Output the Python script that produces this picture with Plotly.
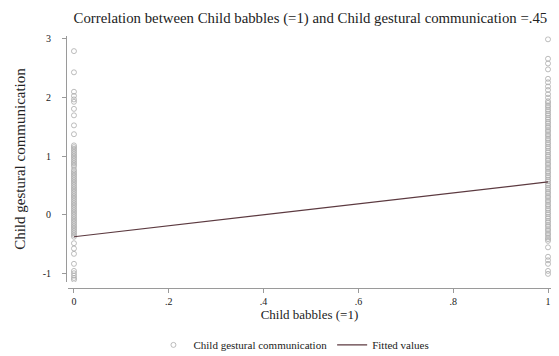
import plotly.graph_objects as go

# babbles = 0 group, gestural communication scores
gest_babble0 = [2.78, 2.42, 2.09, 2.02, 1.96, 1.92, 1.8, 1.69, 1.52, 1.37,
                1.18, 1.15, 1.12, 1.09, 1.06, 1.03, 1.0, 0.97, 0.94, 0.91,
                0.88, 0.85, 0.82, 0.77, 0.74, 0.71, 0.68, 0.65, 0.62, 0.59,
                0.56, 0.53, 0.5, 0.47, 0.44, 0.41, 0.38, 0.35, 0.32, 0.29,
                0.26, 0.23, 0.2, 0.17, 0.14, 0.11, 0.08, 0.05, 0.02, -0.01,
                -0.04, -0.07, -0.1, -0.13, -0.16, -0.19, -0.22, -0.25, -0.28,
                -0.31, -0.34, -0.37, -0.48, -0.57, -0.66, -0.83, -0.95,
                -0.99, -1.03, -1.07, -1.1]

# babbles = 1 group
gest_babble1 = [2.98, 2.65, 2.57, 2.47, 2.31, 2.25, 2.18, 2.12, 2.05, 1.99,
                1.93, 1.9, 1.86, 1.83, 1.79, 1.76, 1.72, 1.69, 1.65, 1.62,
                1.58, 1.55, 1.51, 1.48, 1.44, 1.41, 1.37, 1.34, 1.3, 1.27,
                1.23, 1.2, 1.16, 1.13, 1.09, 1.06, 1.02, 0.99, 0.95, 0.92,
                0.88, 0.85, 0.81, 0.78, 0.74, 0.71, 0.67, 0.64, 0.6, 0.57,
                0.53, 0.5, 0.46, 0.43, 0.39, 0.36, 0.32, 0.29, 0.25, 0.22,
                0.18, 0.15, 0.11, 0.08, 0.04, 0.01, -0.03, -0.06, -0.1,
                -0.13, -0.17, -0.2, -0.24, -0.27, -0.31, -0.34, -0.38,
                -0.41, -0.44, -0.55, -0.71, -0.77, -0.83, -0.95, -1.0]

fit_x = [0, 1]
fit_y = [-0.37, 0.56]

x_ticks = [0, 0.2, 0.4, 0.6, 0.8, 1]
x_tick_labels = ["0", ".2", ".4", ".6", ".8", "1"]
y_ticks = [-1, 0, 1, 2, 3]
y_tick_labels = ["-1", "0", "1", "2", "3"]

FONT = "Liberation Serif"

scatter_x = [0] * len(gest_babble0) + [1] * len(gest_babble1)
scatter_y = gest_babble0 + gest_babble1

fig = go.Figure()
fig.add_trace(go.Scatter(
    x=scatter_x, y=scatter_y, mode="markers",
    name="Child gestural communication",
    marker=dict(symbol="circle-open", size=5, color="#ababab",
                line=dict(width=0.8, color="#ababab")),
))
fig.add_trace(go.Scatter(
    x=fit_x, y=fit_y, mode="lines", name="Fitted values",
    line=dict(color="#5c3a40", width=1.2),
))

axis_common = dict(
    showline=True, linecolor="#9a9a9a", linewidth=1,
    ticks="outside", ticklen=4, tickcolor="#9a9a9a",
    showgrid=False, zeroline=False, automargin=False,
    tickfont=dict(family=FONT, size=10, color="#222"),
)

fig.update_layout(
    width=559, height=356,
    paper_bgcolor="white", plot_bgcolor="white",
    margin=dict(l=58, r=16, t=23, b=76, autoexpand=False),
    font=dict(family=FONT, color="#222"),
    title=dict(
        text="Correlation between Child babbles (=1) and Child gestural communication =.45",
        x=0.541, xanchor="center", y=0.972, yanchor="middle",
        font=dict(family=FONT, size=14.8, color="#222"),
    ),
    xaxis=dict(
        range=[-0.0127, 1.0063], domain=[0.004, 1],
        anchor="free", position=0,
        tickvals=x_ticks, ticktext=x_tick_labels,
        title=dict(text="Child babbles (=1)", standoff=3,
                   font=dict(family=FONT, size=13, color="#222")),
        **axis_common,
    ),
    yaxis=dict(
        range=[-1.137, 3.034], domain=[0.0236, 0.98],
        anchor="free", position=0,
        tickvals=y_ticks, ticktext=y_tick_labels,
        ticklabelstandoff=9,
        title=dict(text="Child gestural communication", standoff=12,
                   font=dict(family=FONT, size=15, color="#222")),
        **axis_common,
    ),
    legend=dict(
        orientation="h", x=0.47, xanchor="center", y=-0.165, yanchor="top",
        font=dict(family=FONT, size=11, color="#222"),
    ),
)

fig.write_html("out.html")
